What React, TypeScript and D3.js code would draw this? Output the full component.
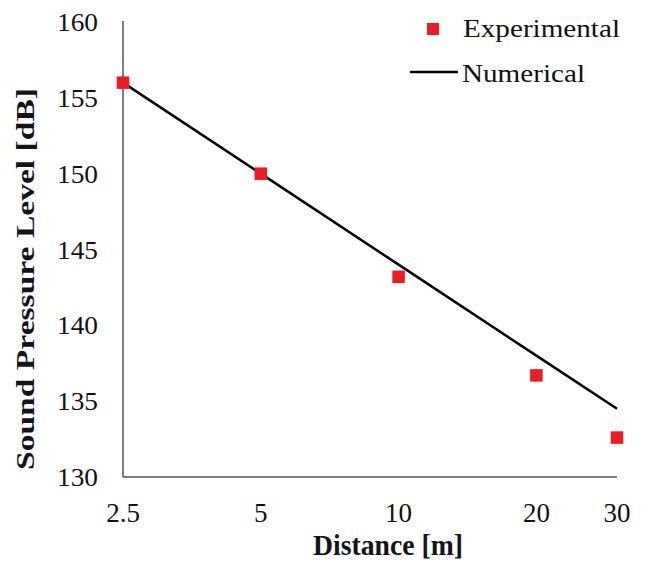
import React, { useEffect, useRef } from "react";
import * as d3 from "d3";

const distances = [2.5, 5, 10, 20, 30];
const experimental = [156.0, 150.0, 143.2, 136.7, 132.6];
const numerical = [156.0, 150.0, 144.0, 138.0, 134.5];
const yTicks = [130, 135, 140, 145, 150, 155, 160];

export default function App() {
  const svgRef = useRef<SVGSVGElement>(null);

  useEffect(() => {
    const width = 646;
    const height = 562;
    const svg = d3.select(svgRef.current).attr("width", width).attr("height", height);
    svg.selectAll("*").remove();

    const x = d3.scaleLog().domain([2.5, 30]).range([123, 617]);
    const y = d3.scaleLinear().domain([130, 160]).range([477, 22]);
    const font = "'Liberation Serif', 'Times New Roman', serif";

    // axes (no tick marks)
    svg.append("line")
      .attr("x1", x(2.5)).attr("x2", x(2.5))
      .attr("y1", y(160) - 1).attr("y2", y(130))
      .attr("stroke", "#555").attr("stroke-width", 1.5);
    svg.append("line")
      .attr("x1", x(2.5)).attr("x2", x(30))
      .attr("y1", y(130)).attr("y2", y(130))
      .attr("stroke", "#555").attr("stroke-width", 1.5);

    svg.append("g")
      .selectAll("text")
      .data(yTicks)
      .join("text")
      .attr("x", 98)
      .attr("y", (d) => y(d) + 9)
      .attr("text-anchor", "end")
      .attr("font-family", font)
      .attr("font-size", 26)
      .attr("textLength", 41)
      .attr("lengthAdjust", "spacingAndGlyphs")
      .attr("fill", "#111")
      .text((d) => d);

    svg.append("g")
      .selectAll("text")
      .data(distances)
      .join("text")
      .attr("x", (d) => x(d))
      .attr("y", 522)
      .attr("text-anchor", "middle")
      .attr("font-family", font)
      .attr("font-size", 27)
      .attr("fill", "#111")
      .text((d) => d);

    // numerical line
    const line = d3.line<number>()
      .x((_, i) => x(distances[i]))
      .y((d) => y(d));
    svg.append("path")
      .datum(numerical)
      .attr("d", line)
      .attr("fill", "none")
      .attr("stroke", "#000")
      .attr("stroke-width", 2.5);

    // experimental markers
    const s = 12.5;
    svg.append("g")
      .selectAll("rect")
      .data(experimental)
      .join("rect")
      .attr("x", (_, i) => x(distances[i]) - s / 2)
      .attr("y", (d) => y(d) - s / 2)
      .attr("width", s)
      .attr("height", s)
      .attr("fill", "#ed1c24");

    // titles
    svg.append("text")
      .attr("x", 388)
      .attr("y", 555)
      .attr("text-anchor", "middle")
      .attr("font-family", font)
      .attr("font-weight", "bold")
      .attr("font-size", 29)
      .attr("textLength", 150)
      .attr("lengthAdjust", "spacingAndGlyphs")
      .attr("fill", "#14141c")
      .text("Distance [m]");

    svg.append("text")
      .attr("transform", "translate(34,279) rotate(-90)")
      .attr("text-anchor", "middle")
      .attr("font-family", font)
      .attr("font-weight", "bold")
      .attr("font-size", 25)
      .attr("textLength", 382)
      .attr("lengthAdjust", "spacingAndGlyphs")
      .attr("fill", "#14141c")
      .text("Sound Pressure Level [dB]");

    // legend
    const legend = svg.append("g");
    legend.append("rect")
      .attr("x", 427).attr("y", 23)
      .attr("width", 12).attr("height", 12)
      .attr("fill", "#ed1c24");
    legend.append("text")
      .attr("x", 463).attr("y", 37)
      .attr("font-family", font)
      .attr("font-size", 26)
      .attr("textLength", 157)
      .attr("lengthAdjust", "spacingAndGlyphs")
      .attr("fill", "#111")
      .text("Experimental");
    legend.append("line")
      .attr("x1", 410).attr("x2", 458)
      .attr("y1", 72).attr("y2", 72)
      .attr("stroke", "#000").attr("stroke-width", 2.5);
    legend.append("text")
      .attr("x", 462).attr("y", 82)
      .attr("font-family", font)
      .attr("font-size", 26)
      .attr("textLength", 123)
      .attr("lengthAdjust", "spacingAndGlyphs")
      .attr("fill", "#111")
      .text("Numerical");
  }, []);

  return (
    <svg
      ref={svgRef}
      style={{ position: "absolute", left: 0, top: 0, background: "#fff" }}
    />
  );
}
